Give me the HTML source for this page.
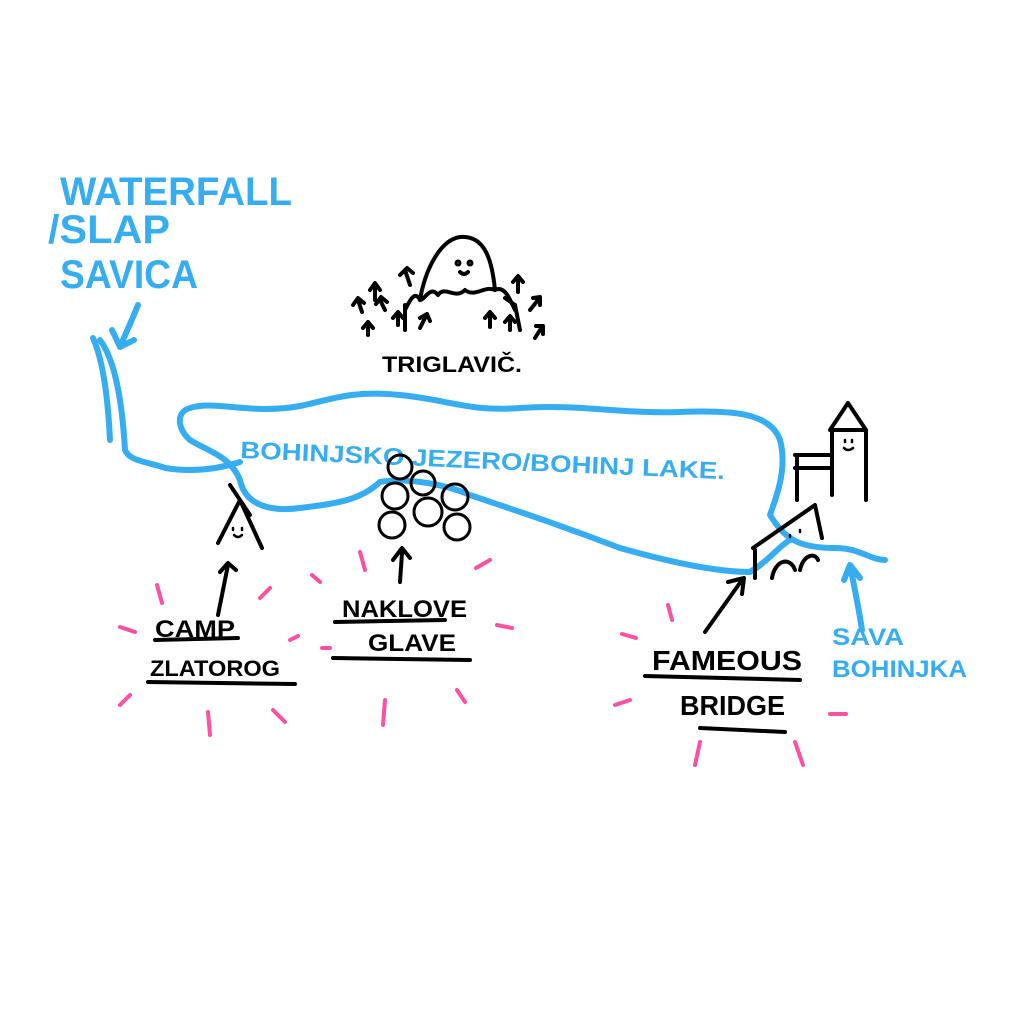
<!DOCTYPE html>
<html><head><style>
body{margin:0;background:#fff;}
svg{display:block}
text{font-family:"Liberation Sans",sans-serif;font-weight:bold;}
</style></head><body>
<svg width="1024" height="1024" viewBox="0 0 1024 1024" fill="none" stroke-linecap="round" stroke-linejoin="round">
<g stroke="#36adf0" stroke-width="6">
<path d="M240,480 C230,455 205,450 190,440 C178,430 175,412 190,408 C215,400 250,415 300,406 C330,400 350,390 400,395 C450,400 470,412 520,408 C580,404 620,414 680,412 C730,410 770,412 780,440 C788,470 775,500 770,515 C785,540 800,548 835,548 C860,548 870,560 885,560"/>
<path d="M240,480 C245,505 270,512 300,508 C340,503 360,500 380,482 C400,478 440,482 470,495 C520,512 560,525 620,548 C680,565 720,572 750,572 C770,560 780,545 790,540"/>
<path d="M93,338 C103,360 108,400 110,440"/>
<path d="M100,340 C115,360 122,400 125,450 C130,462 150,462 165,468 C190,472 215,470 240,462"/>
<path d="M138,305 C132,320 125,335 120,347 M120,347 L112,330 M120,347 L134,340"/>
<path d="M850,565 C855,590 860,615 862,630 M850,565 L844,580 M850,565 L860,578"/>
</g>
<g fill="#36adf0" font-size="40">
<text x="60" y="205" textLength="232" lengthAdjust="spacingAndGlyphs">WATERFALL</text>
<text x="48" y="243" textLength="122" lengthAdjust="spacingAndGlyphs">/SLAP</text>
<text x="60" y="288" textLength="138" lengthAdjust="spacingAndGlyphs">SAVICA</text>
<text x="240" y="458" font-size="24" font-weight="normal" textLength="485" lengthAdjust="spacingAndGlyphs" transform="rotate(2.5 240 458)">BOHINJSKO JEZERO/BOHINJ LAKE.</text>
<text x="832" y="645" font-size="24" font-weight="normal" textLength="72" lengthAdjust="spacingAndGlyphs">SAVA</text>
<text x="832" y="677" font-size="24" font-weight="normal" textLength="135" lengthAdjust="spacingAndGlyphs">BOHINJKA</text>
</g>
<g stroke="#000" stroke-width="4">
<path d="M420,300 C425,270 440,240 460,237 C485,235 492,260 495,290 C485,285 475,298 465,290 C455,300 445,285 438,295 C430,285 425,300 420,300"/>
<path d="M420,300 C415,290 410,300 405,310 M495,290 C505,285 510,300 515,310"/>
<path d="M405,305 L405,330 M515,305 L520,330"/>
<circle cx="458" cy="263" r="1.5"/><circle cx="470" cy="263" r="1.5"/><path d="M460,272 Q464,276 468,272"/>
<path d="M375,285 L375,300 M370,290 L375,283 L380,290 M405,270 L410,285 M400,275 L407,268 L413,273 M358,300 L362,312 M353,305 L358,298 L364,303 M380,300 L385,310 M376,304 L381,297 L387,302 M398,315 L398,325 M393,318 L398,312 L403,318 M425,318 L420,328 M420,318 L427,314 L430,321 M368,325 L368,335 M363,328 L368,322 L373,328 M490,315 L490,327 M485,318 L490,312 L495,318 M510,320 L510,330 M505,322 L510,316 L515,322 M518,278 L518,292 M513,282 L518,276 L523,282 M538,300 L530,310 M533,298 L540,297 L540,305 M540,330 L535,338 M536,326 L543,326 L543,334 M505,298 L515,305"/>
<g stroke-width="3">
<circle cx="400" cy="467" r="12"/><circle cx="423" cy="483" r="12"/><circle cx="395" cy="496" r="13"/><circle cx="455" cy="497" r="13"/><circle cx="428" cy="512" r="14"/><circle cx="392" cy="525" r="13"/><circle cx="457" cy="527" r="13"/>
</g>
<path d="M402,553 L400,582 M393,560 L402,548 L410,558"/>
<path d="M218,543 L240,500 L262,548 M230,485 L250,515"/>
<path d="M233,528 L233,530 M242,528 L242,530 M234,535 Q238,539 242,535" stroke-width="2.5"/>
<path d="M218,615 L228,565 M220,572 L228,563 L236,570"/>
<path d="M830,430 L848,403 L866,430 Z M832,430 L832,495 M866,430 L866,500 M795,455 L832,455 M795,468 L832,468 M797,455 L797,500"/>
<path d="M753,548 L815,505 L822,538 M755,550 L755,578 M772,578 C775,560 790,556 795,570 M800,570 C803,555 815,552 818,560"/>
<path d="M705,632 L742,580 M728,582 L744,578 L742,594"/>
<path d="M845,440 L845,442 M852,440 L852,442 M844,448 Q848,452 853,448 M790,535 L790,537 M800,530 L800,532" stroke-width="2.5"/>
<path d="M155,640 L238,638 M148,682 L295,684 M335,622 L445,620 M333,658 L470,660 M645,676 L800,680 M700,728 L785,732"/>
</g>
<g fill="#000" font-weight="normal" font-size="22">
<text x="382" y="372" textLength="140" lengthAdjust="spacingAndGlyphs">TRIGLAVIČ.</text>
<text x="155" y="637" font-size="24" textLength="80" lengthAdjust="spacingAndGlyphs">CAMP</text>
<text x="150" y="676" textLength="130" lengthAdjust="spacingAndGlyphs">ZLATOROG</text>
<text x="342" y="617" font-size="24" textLength="125" lengthAdjust="spacingAndGlyphs">NAKLOVE</text>
<text x="368" y="651" font-size="24" textLength="88" lengthAdjust="spacingAndGlyphs">GLAVE</text>
<text x="652" y="670" font-size="28" textLength="150" lengthAdjust="spacingAndGlyphs">FAMEOUS</text>
<text x="680" y="715" font-size="28" textLength="105" lengthAdjust="spacingAndGlyphs">BRIDGE</text>
</g>
<g stroke="#ff4fa3" stroke-width="4">
<path d="M157,585 L162,603 M120,627 L135,632 M120,705 L130,695 M208,712 L210,735 M273,710 L285,722 M290,640 L298,636 M260,598 L270,588"/>
<path d="M312,575 L320,582 M360,552 L365,570 M476,568 L490,560 M497,625 L512,628 M457,690 L465,702 M385,700 L383,725 M322,648 L330,648"/>
<path d="M668,605 L672,620 M622,634 L636,638 M615,705 L630,700 M700,742 L695,765 M795,742 L803,765 M830,714 L846,714"/>
</g>
</svg>
</body></html>
